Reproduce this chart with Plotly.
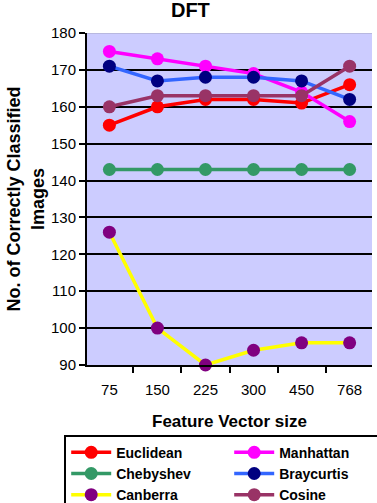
import plotly.graph_objects as go

categories = ["75", "150", "225", "300", "450", "768"]
euclidean = [155, 160, 162, 162, 161, 166]
manhattan = [175, 173, 171, 169, 164, 156]
chebyshev = [143, 143, 143, 143, 143, 143]
braycurtis = [171, 167, 168, 168, 167, 162]
canberra = [126, 100, 90, 94, 96, 96]
cosine = [160, 163, 163, 163, 163, 171]

series = [
    ("Euclidean", euclidean, "#FF0000", "#FF0000"),
    ("Manhattan", manhattan, "#FF00FF", "#FF00FF"),
    ("Chebyshev", chebyshev, "#339966", "#339966"),
    ("Braycurtis", braycurtis, "#3366FF", "#000080"),
    ("Canberra", canberra, "#FFFF00", "#800080"),
    ("Cosine", cosine, "#993366", "#993366"),
]

fig = go.Figure()
for name, vals, lc, mc in series:
    fig.add_trace(go.Scatter(
        x=categories, y=vals, name="<b>" + name + "</b>", mode="lines+markers",
        line=dict(color=lc, width=3.5),
        marker=dict(color=mc, size=13),
        cliponaxis=False,
    ))

font = "Liberation Sans, Arial, sans-serif"
fig.update_layout(
    width=377, height=503,
    margin=dict(l=87, r=5, t=33, b=138, autoexpand=False),
    paper_bgcolor="white",
    plot_bgcolor="#CCCCFF",
    font=dict(family=font, color="black", size=15),
    title=dict(text="<b>DFT</b>", x=0.505, xanchor="center", y=0.995, yanchor="top",
               font=dict(size=20, family=font, color="black")),
    showlegend=True,
    legend=dict(
        orientation="h",
        x=-0.08, xanchor="left", y=-0.21, yanchor="top",
        bordercolor="black", borderwidth=2, bgcolor="white",
        font=dict(size=14, family=font, color="black"),
        entrywidth=108, entrywidthmode="pixels",
        tracegroupgap=0, itemwidth=40,
    ),
    xaxis=dict(
        type="category", tickson="boundaries", ticks="outside", ticklen=6,
        tickcolor="black", tickwidth=2, showline=True, linecolor="black", linewidth=2,
        showgrid=False, mirror=False, tickfont=dict(size=15),
        ticklabelstandoff=10,
        title=dict(text="<b>Feature Vector size</b>", font=dict(size=17), standoff=18),
    ),
    yaxis=dict(
        range=[90, 180], dtick=10, ticks="outside", ticklen=6, tickcolor="black", tickwidth=2,
        showline=True, linecolor="black", linewidth=2,
        showgrid=True, gridcolor="black", gridwidth=2,
        zeroline=False, tickfont=dict(size=15),
        title=dict(text="<b>No. of Correctly Classified<br>Images</b>", font=dict(size=18), standoff=2),
    ),
)
fig.add_shape(type="line", xref="paper", yref="y", x0=0, x1=1, y0=180, y1=180,
              line=dict(color="#B8B8E0", width=2), layer="above")
fig.write_html("out.html")
